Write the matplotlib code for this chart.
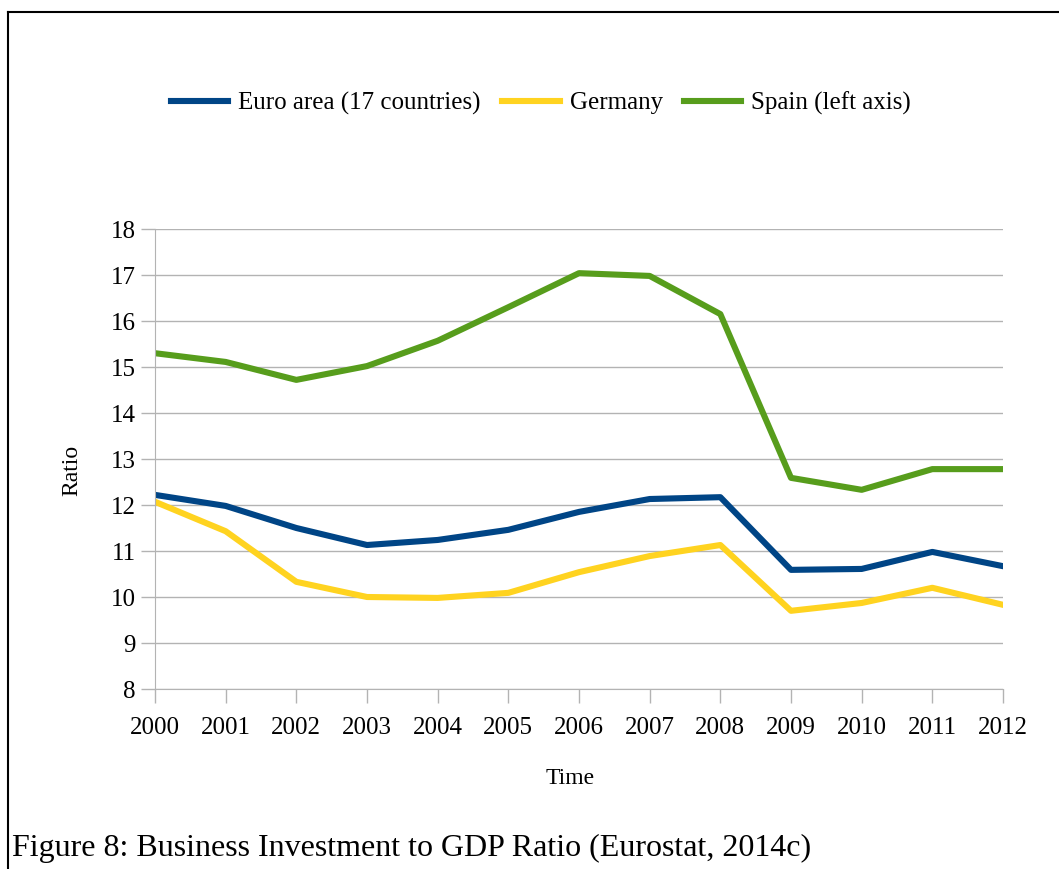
import matplotlib
matplotlib.use("Agg")
import matplotlib.pyplot as plt
from matplotlib.lines import Line2D

annees = ["2000", "2001", "2002", "2003", "2004", "2005", "2006",
          "2007", "2008", "2009", "2010", "2011", "2012"]
zone_euro = [12.22, 11.98, 11.50, 11.13, 11.24, 11.46, 11.85, 12.13, 12.17, 10.59, 10.61, 10.98, 10.67]
allemagne = [12.07, 11.43, 10.33, 10.00, 9.98, 10.09, 10.54, 10.89, 11.13, 9.70, 9.87, 10.20, 9.83]
espagne = [15.30, 15.11, 14.72, 15.02, 15.57, 16.30, 17.04, 16.98, 16.15, 12.59, 12.33, 12.78, 12.78]

plt.rcParams['font.family'] = ['Liberation Serif', 'DejaVu Serif']

fig = plt.figure(figsize=(10.59, 8.69), dpi=100)
ax = fig.add_axes([155/1059, 1-689/869, (1003-155)/1059, (689-229)/869])

x = list(range(len(annees)))
ax.plot(x, zone_euro, color="#004586", lw=4.4, label="Euro area (17 countries)", solid_joinstyle="round")
ax.plot(x, allemagne, color="#ffd320", lw=4.4, label="Germany", solid_joinstyle="round")
ax.plot(x, espagne, color="#579d1c", lw=4.4, label="Spain (left axis)", solid_joinstyle="round")

ax.set_xlim(0, len(annees)-1)
ax.set_ylim(8, 18)
ax.set_yticks(range(8, 19))
ax.set_xticks(x)
ax.set_xticklabels(annees)
ax.grid(axis="y", color="#b3b3b3", lw=1)
ax.set_axisbelow(True)
for s in ["top", "right"]:
    ax.spines[s].set_visible(False)
for s in ["left", "bottom"]:
    ax.spines[s].set_color("#b3b3b3")
ax.tick_params(axis="both", colors="#b3b3b3", labelcolor="black", labelsize=18, length=10, width=1)
ax.tick_params(axis="y", pad=4)
ax.tick_params(axis="x", pad=10)

fig.text(72/1059, 1-470/869, "Ratio", rotation=90, ha="center", va="center", fontsize=17)
fig.text(570/1059, 1-778/869, "Time", ha="center", va="center", fontsize=17)

fig.legend(loc="center", bbox_to_anchor=(541/1059, 1-103/869), ncol=3, frameon=False,
           fontsize=18, handlelength=2.3, columnspacing=0.85, handletextpad=0.4)

# cadre autour du graphique
fig.add_artist(Line2D([8/1059, 1.0], [1-12/869, 1-12/869], color="black", lw=1.5))
fig.add_artist(Line2D([8/1059, 8/1059], [1-12/869, 0.0], color="black", lw=1.5))

fig.text(12/1059, 1-848/869, "Figure 8: Business Investment to GDP Ratio (Eurostat, 2014c)",
         ha="left", va="center", fontsize=23)

fig.savefig("out.png", dpi=100)
